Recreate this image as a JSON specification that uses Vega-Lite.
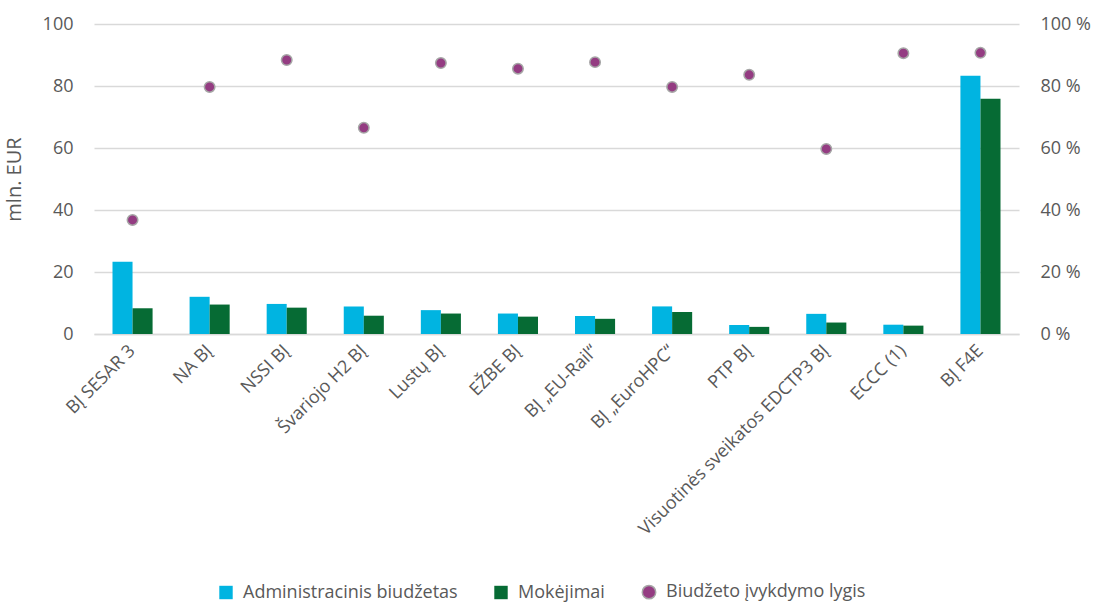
{
  "$schema": "https://vega.github.io/schema/vega-lite/v6.json",
  "width": 925,
  "height": 310,
  "autosize": {"type": "none"},
  "padding": {"left": 94, "top": 24, "right": 75, "bottom": 270},
  "background": "white",
  "config": {
    "font": "Open Sans",
    "view": {"stroke": null},
    "axis": {"labelColor": "#595959", "titleColor": "#595959", "labelFontSize": 18, "titleFontSize": 20, "titleFontWeight": "normal", "ticks": false, "labelOverlap": false}
  },
  "data": {
    "values": [
      {"k": "BĮ SESAR 3", "admin": 23.3, "pay": 8.3, "rate": 36.8},
      {"k": "NA BĮ", "admin": 12.0, "pay": 9.5, "rate": 79.7},
      {"k": "NSSI BĮ", "admin": 9.7, "pay": 8.5, "rate": 88.4},
      {"k": "Švariojo H2 BĮ", "admin": 8.9, "pay": 5.9, "rate": 66.5},
      {"k": "Lustų BĮ", "admin": 7.7, "pay": 6.6, "rate": 87.4},
      {"k": "EŽBE BĮ", "admin": 6.6, "pay": 5.6, "rate": 85.6},
      {"k": "BĮ „EU-Rail“", "admin": 5.8, "pay": 4.9, "rate": 87.7},
      {"k": "BĮ „EuroHPC“", "admin": 8.9, "pay": 7.1, "rate": 79.7},
      {"k": "PTP BĮ", "admin": 2.9, "pay": 2.3, "rate": 83.6},
      {"k": "Visuotinės sveikatos EDCTP3 BĮ", "admin": 6.5, "pay": 3.7, "rate": 59.7},
      {"k": "ECCC (1)", "admin": 3.0, "pay": 2.7, "rate": 90.6},
      {"k": "BĮ F4E", "admin": 83.3, "pay": 75.9, "rate": 90.7}
    ]
  },
  "encoding": {
    "x": {
      "field": "k", "type": "nominal", "sort": null,
      "scale": {"paddingInner": 0.48, "paddingOuter": 0.24},
      "axis": {"title": null, "labelAngle": -45, "labelAlign": "right", "labelBaseline": "middle", "labelPadding": 14, "domain": true, "domainColor": "#D9D9D9", "domainWidth": 1.5, "labelFontSize": 18, "labelLimit": 400}
    }
  },
  "layer": [
    {
      "transform": [
        {"fold": ["admin", "pay"], "as": ["series", "val"]},
        {"calculate": "datum.series === 'admin' ? 'Administracinis biudžetas' : 'Mokėjimai'", "as": "name"}
      ],
      "mark": {"type": "bar"},
      "encoding": {
        "xOffset": {"field": "name", "type": "nominal", "sort": ["Administracinis biudžetas", "Mokėjimai"], "scale": {"paddingInner": 0, "paddingOuter": 0}},
        "y": {
          "field": "val", "type": "quantitative",
          "scale": {"domain": [0, 100], "nice": false},
          "axis": {"title": "mln. EUR", "values": [0, 20, 40, 60, 80, 100], "domain": false, "grid": true, "gridColor": "#D9D9D9", "gridWidth": 1.5, "labelPadding": 21, "titlePadding": 18, "labelFontSize": 18}
        },
        "color": {
          "field": "name", "type": "nominal",
          "scale": {"domain": ["Administracinis biudžetas", "Mokėjimai", "Biudžeto įvykdymo lygis"], "range": ["#00B4E1", "#066B34", "#943C82"]},
          "legend": {
            "title": null, "orient": "none", "direction": "horizontal", "legendX": 123, "legendY": 559,
            "labelFontSize": 18, "labelColor": "#595959", "labelLimit": 500, "symbolSize": 180, "columnPadding": 34, "labelOffset": 8,
            "symbolStrokeColor": "#A6A6A6",
            "encode": {"symbols": {"update": {
              "shape": {"signal": "datum.value === 'Biudžeto įvykdymo lygis' ? 'circle' : 'square'"},
              "strokeWidth": {"signal": "datum.value === 'Biudžeto įvykdymo lygis' ? 1.5 : 0"}
            }}}
          }
        }
      }
    },
    {
      "mark": {"type": "point", "filled": true, "size": 110, "stroke": "#A6A6A6", "strokeWidth": 1.5, "opacity": 1},
      "encoding": {
        "y": {
          "field": "rate", "type": "quantitative",
          "scale": {"domain": [0, 100], "nice": false},
          "axis": {"orient": "right", "title": null, "values": [0, 20, 40, 60, 80, 100], "labelExpr": "datum.value + ' %'", "grid": false, "domain": false, "labelPadding": 21, "labelFontSize": 18}
        },
        "color": {"datum": "Biudžeto įvykdymo lygis", "type": "nominal"}
      }
    }
  ],
  "resolve": {"scale": {"y": "independent"}}
}
